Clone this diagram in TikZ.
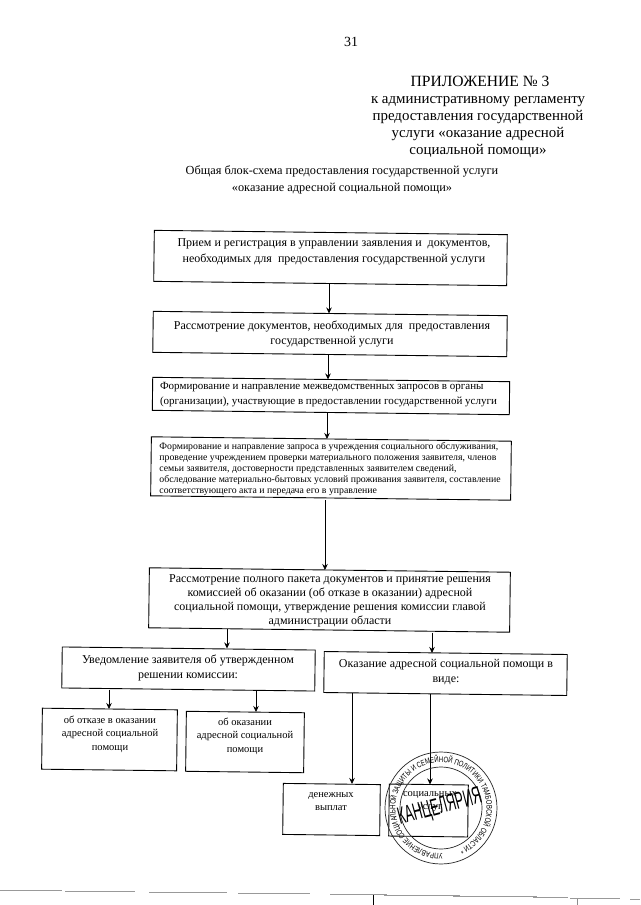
\documentclass[tikz,border=0pt]{standalone}
\usepackage{fontspec}
\setmainfont{Liberation Serif}
\newfontfamily\stampfont[FakeStretch=0.75]{Liberation Sans}
\newfontfamily\kanzfont[FakeStretch=0.52]{Liberation Sans}
\usetikzlibrary{arrows.meta,calc,decorations.text}
\tikzset{
  x=1pt,y=-1pt,
  flowbox/.style={draw=black,line width=0.9pt,inner sep=0pt,outer sep=0pt,fill=none,rotate=-0.7},
  flow/.style={draw=black,line width=0.8pt,-{Stealth[length=6pt,width=5.5pt]}},
  plain/.style={inner sep=0pt,align=center},
  scanline/.style={draw=black!40,line width=0.9pt},
  stampline/.style={draw=black!85,line width=0.7pt}
}
\begin{document}
\begin{tikzpicture}
\useasboundingbox (0,0) rectangle (640,905);
\fill[white] (0,0) rectangle (640,905);

\node[plain,font=\fontsize{14}{14}\selectfont] (pagenum) at (351,42) {31};
\node[plain,font=\fontsize{15.6}{15.6}\selectfont] (annexa) at (480,81) {ПРИЛОЖЕНИЕ № 3};
\node[plain,font=\fontsize{14.9}{17.1}\selectfont] (annexb) at (478,127) {к административному регламенту\\предоставления государственной\\услуги «оказание адресной\\социальной помощи»};
\node[plain,font=\fontsize{12.3}{17}\selectfont] (heading) at (342,180) {Общая блок-схема предоставления государственной услуги\\«оказание адресной социальной помощи»};

\node[flowbox,minimum width=353pt,minimum height=51pt] (b1) at (330.5,258) {};
\node[plain,font=\fontsize{12}{15.5}\selectfont] (t1) at (334,252) {Прием и регистрация в управлении заявления и\ \ документов,\\необходимых для\ \ предоставления государственной услуги};
\node[flowbox,minimum width=354pt,minimum height=41pt] (b2) at (330,334) {};
\node[plain,font=\fontsize{12}{15}\selectfont] (t2) at (332,334) {Рассмотрение документов, необходимых для\ \ предоставления\\государственной услуги};
\node[flowbox,minimum width=357pt,minimum height=33pt] (b3) at (331,396) {};
\node[plain,align=left,font=\fontsize{11}{15}\selectfont] (t3) at (328.5,395) {Формирование и направление межведомственных запросов в органы\\(организации), участвующие в предоставлении государственной услуги};
\node[flowbox,minimum width=360pt,minimum height=59pt] (b4) at (331,468.5) {};
\node[plain,align=left,font=\fontsize{9.8}{11.1}\selectfont] (t4) at (330,469) {Формирование и направление запроса в учреждения социального обслуживания,\\проведение учреждением проверки материального положения заявителя, членов\\семьи заявителя, достоверности представленных заявителем сведений,\\обследование материально-бытовых условий проживания заявителя, составление\\соответствующего акта и передача его в управление};
\node[flowbox,minimum width=361pt,minimum height=60pt] (b5) at (329.5,600) {};
\node[plain,font=\fontsize{12}{14.2}\selectfont] (t5) at (330,601) {Рассмотрение полного пакета документов и принятие решения\\комиссией об оказании (об отказе в оказании) адресной\\социальной помощи, утверждение решения комиссии главой\\администрации области};
\node[flowbox,minimum width=253pt,minimum height=41pt] (b6) at (188.5,669) {};
\node[plain,font=\fontsize{12}{15}\selectfont] (t6) at (188,668) {Уведомление заявителя об утвержденном\\решении комиссии:};
\node[flowbox,minimum width=243pt,minimum height=41pt] (b7) at (445.5,673.5) {};
\node[plain,font=\fontsize{12}{15}\selectfont] (t7) at (446,672) {Оказание адресной социальной помощи в\\виде:};
\node[flowbox,minimum width=135pt,minimum height=61pt] (b8) at (109.5,739.5) {};
\node[plain,font=\fontsize{10.5}{13.5}\selectfont] (t8) at (110,734) {об отказе в оказании\\адресной социальной\\помощи};
\node[flowbox,minimum width=118pt,minimum height=60pt] (b9) at (245,742) {};
\node[plain,font=\fontsize{10.5}{13.5}\selectfont] (t9) at (245,736) {об оказании\\адресной социальной\\помощи};
\node[flowbox,minimum width=97pt,minimum height=51pt] (b10) at (331.5,809.5) {};
\node[plain,font=\fontsize{10.5}{13}\selectfont] (t10) at (331,802) {денежных\\выплат};
\node[flowbox,minimum width=79pt,minimum height=52pt] (b11) at (428.5,810.5) {};
\node[plain,font=\fontsize{10.5}{13}\selectfont] (t11) at (430,802) {социальных\\услуг};

\coordinate (a1) at (329,283.5);
\coordinate (a2) at (328,355);
\coordinate (a3) at (327,412.5);
\coordinate (a4) at (325,500);
\coordinate (a5) at (227,628.5);
\coordinate (a6) at (432,632.5);
\coordinate (a7) at (109,689.5);
\coordinate (a8) at (256,691);
\coordinate (a9) at (352,693);
\coordinate (a10) at (430,694);
\draw[flow] (a1) -- (a1 |- b2.north);
\draw[flow] (a2) -- (a2 |- b3.north);
\draw[flow] (a3) -- (a3 |- b4.north);
\draw[flow] (a4) -- (a4 |- b5.north);
\draw[flow] (a5) -- (a5 |- b6.north);
\draw[flow] (a6) -- (a6 |- b7.north);
\draw[flow] (a7) -- (a7 |- b8.north);
\draw[flow] (a8) -- (a8 |- b9.north);
\draw[flow] (a9) -- (a9 |- b10.north);
\draw[flow] (a10) -- (a10 |- b11.north);

% stamp
\coordinate (sc) at (441,808);
\draw[stampline] (sc) circle[radius=56];
\draw[stampline] (sc) circle[radius=41];
\path[postaction={decorate,decoration={text along path,text align={align=fit to path},
  text={|\fontsize{8}{8}\selectfont\stampfont|УПРАВЛЕНИЕ СОЦИАЛЬНОЙ ЗАЩИТЫ И СЕМЕЙНОЙ ПОЛИТИКИ ТАМБОВСКОЙ ОБЛАСТИ *}}}]
  ($(sc)+(80:45.6)$) arc[start angle=80,end angle=434,radius=45.6];
\node[inner sep=0pt,rotate=15,font=\kanzfont\fontsize{24}{24}\selectfont] (stampword) at (440,808) {КАНЦЕЛЯРИЯ};

% scan edge
\foreach \xa/\xb/\yy in {0/62/890,65/135/891.5,149/227/892.5,238/310/893.5,330/387/894.5,384/460/895.5,453/537/896.5,533/568/897.5,570/594/898,587/620/898.5,630/640/899}
  \draw[scanline] (\xa,\yy) -- (\xb,\yy);
\draw[black,line width=0.7pt] (373.5,895) -- (373.5,905);
\draw[black!45,line width=0.6pt] (577,898.5) -- (577,905);
\end{tikzpicture}
\end{document}
